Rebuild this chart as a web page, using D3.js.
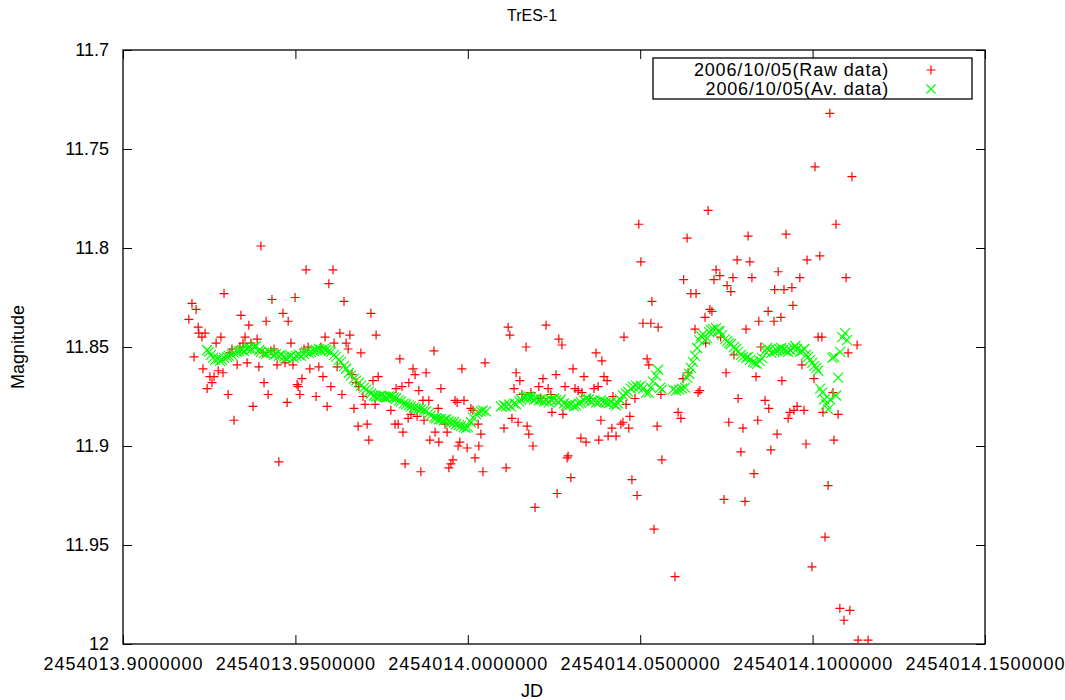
<!DOCTYPE html>
<html>
<head>
<meta charset="utf-8">
<script src="https://cdn.jsdelivr.net/npm/d3@7/dist/d3.min.js"></script>
<style>
  html, body { margin: 0; padding: 0; background: #fff; }
  svg { display: block; font-family: "Liberation Sans", Arial, sans-serif; }
</style>
</head>
<body>
<svg id="chart" width="1065" height="700"></svg>
<script>
// ---- data ----
const JD0 = 2454013;               // times below are days after JD 2454013
const rawT = [
0.9191,0.9200,0.9206,0.9212,0.9218,0.9220,0.9229,0.9232,0.9238,0.9244,
0.9252,0.9258,0.9264,0.9270,0.9276,0.9284,0.9290,0.9293,0.9305,0.9310,
0.9316,0.9322,0.9331,0.9339,0.9342,0.9348,0.9354,0.9360,0.9365,0.9371,
0.9377,0.9389,0.9394,0.9400,0.9406,0.9409,0.9415,0.9421,0.9429,0.9432,
0.9438,0.9447,0.9452,0.9464,0.9470,0.9476,0.9479,0.9487,0.9493,0.9499,
0.9505,0.9508,0.9513,0.9519,0.9525,0.9531,0.9537,0.9542,0.9560,0.9568,
0.9574,0.9580,0.9586,0.9592,0.9597,0.9603,0.9609,0.9612,0.9621,0.9629,
0.9635,0.9641,0.9647,0.9653,0.9658,0.9664,0.9670,0.9676,0.9682,0.9684,
0.9690,0.9696,0.9702,0.9708,0.9713,0.9719,0.9725,0.9731,0.9734,0.9740,
0.9777,0.9789,0.9792,0.9798,0.9803,0.9809,0.9812,0.9818,0.9827,0.9829,
0.9835,0.9841,0.9847,0.9853,0.9858,0.9864,0.9870,0.9873,0.9879,0.9887,
0.9890,0.9902,0.9905,0.9914,0.9916,0.9922,0.9934,0.9940,0.9945,0.9951,
0.9957,0.9963,0.9969,0.9972,0.9977,0.9983,0.9989,0.9998,1.0009,1.0015,
1.0021,1.0030,1.0032,1.0038,1.0044,1.0050,
1.0105,1.0111,1.0117,1.0122,1.0128,1.0134,1.0140,1.0146,1.0151,1.0157,
1.0169,1.0172,1.0177,1.0183,1.0189,1.0195,1.0206,1.0212,1.0218,1.0227,
1.0233,1.0241,1.0244,1.0256,1.0259,1.0264,1.0273,1.0276,1.0282,1.0288,
1.0291,1.0299,1.0305,1.0311,1.0320,1.0328,1.0331,1.0337,1.0343,1.0354,
1.0366,1.0372,1.0378,1.0380,1.0386,1.0389,1.0395,1.0404,1.0407,1.0418,
1.0421,1.0430,1.0444,1.0450,1.0453,1.0459,1.0467,1.0470,1.0476,1.0485,
1.0491,1.0496,1.0502,1.0508,1.0520,1.0525,1.0531,1.0534,1.0540,1.0549,
1.0552,1.0560,1.0563,1.0601,1.0610,1.0618,1.0624,1.0626,1.0636,1.0639,
1.0647,1.0659,1.0662,1.0668,1.0673,1.0688,1.0690,1.0697,1.0702,1.0708,
1.0714,1.0720,1.0731,1.0733,1.0743,1.0749,1.0752,1.0757,1.0763,1.0769,
1.0772,1.0781,1.0784,1.0792,1.0798,1.0804,1.0807,1.0813,1.0818,1.0824,
1.0830,1.0836,1.0841,1.0844,1.0850,1.0862,1.0871,1.0873,1.0879,1.0888,
1.0890,1.0897,1.0900,1.0908,1.0911,1.0917,1.0923,1.0929,1.0934,1.0940,
1.0943,1.0946,1.0955,1.0963,1.0969,1.0975,1.0981,1.0984,1.0998,1.1004,
1.1007,1.1016,1.1021,1.1027,1.1030,1.1036,1.1045,1.1050,1.1059,1.1062,
1.1068,1.1074,1.1079,1.1091,1.1097,1.1103,1.1108,1.1114,1.1129,1.1132,
1.1161
];
const rawMag = [
11.836,11.828,11.855,11.831,11.840,11.843,11.845,11.861,11.843,11.871,
11.865,11.868,11.865,11.848,11.862,11.845,11.863,11.823,11.874,11.853,
11.851,11.887,11.859,11.850,11.834,11.848,11.845,11.858,11.839,11.848,
11.880,11.846,11.860,11.799,11.853,11.868,11.837,11.874,11.852,11.826,
11.851,11.859,11.908,11.833,11.858,11.878,11.837,11.848,11.859,11.825,
11.869,11.870,11.874,11.866,11.851,11.811,11.850,11.861,11.875,11.860,
11.850,11.865,11.845,11.880,11.818,11.870,11.811,11.848,11.860,11.843,
11.874,11.827,11.848,11.851,11.844,11.864,11.881,11.868,11.890,11.870,
11.853,11.875,11.879,11.889,11.897,11.833,11.867,11.879,11.844,11.865,
11.882,11.889,11.871,11.889,11.856,11.870,11.893,11.909,11.886,11.868,
11.884,11.861,11.864,11.885,11.872,11.913,11.877,11.887,11.863,11.877,
11.897,11.852,11.893,11.881,11.898,11.871,11.889,11.893,11.911,11.909,
11.907,11.877,11.878,11.900,11.898,11.861,11.877,11.901,11.881,11.882,
11.906,11.889,11.900,11.894,11.913,11.858,
11.891,11.911,11.840,11.844,11.886,11.871,11.863,11.888,11.867,11.874,
11.850,11.890,11.894,11.873,11.900,11.931,11.870,11.876,11.866,11.839,
11.871,11.874,11.883,11.864,11.924,11.846,11.849,11.884,11.870,11.906,
11.905,11.916,11.861,11.871,11.872,11.896,11.873,11.865,11.898,11.876,
11.871,11.853,11.870,11.897,11.887,11.857,11.865,11.867,11.895,11.891,
11.875,11.895,11.889,11.888,11.845,11.879,11.891,11.885,11.917,11.876,
11.925,11.788,11.807,11.838,11.856,11.859,11.838,11.827,11.942,11.890,
11.840,11.874,11.907,11.966,11.883,11.886,11.866,11.816,11.795,11.863,
11.823,11.841,11.823,11.873,11.872,11.835,11.848,11.781,11.831,11.832,
11.816,11.811,11.814,11.845,11.927,11.863,11.819,11.888,11.822,11.815,
11.854,11.806,11.876,11.903,11.891,11.928,11.841,11.794,11.807,11.815,
11.914,11.865,11.887,11.837,11.850,11.877,11.832,11.881,11.902,11.837,
11.821,11.894,11.812,11.835,11.867,11.821,11.793,11.886,11.883,11.820,
11.829,11.882,11.880,11.815,11.859,11.882,11.899,11.806,11.961,11.866,
11.759,11.845,11.804,11.845,11.883,11.946,11.920,11.732,11.873,11.897,
11.788,11.884,11.982,11.988,11.815,11.853,11.983,11.764,11.849,11.998,
11.998
];
const avgT = [
0.9244,0.9249,0.9255,0.9261,0.9267,0.9276,0.9281,0.9287,0.9293,0.9302,
0.9307,0.9316,0.9322,0.9331,0.9336,0.9345,0.9351,0.9360,0.9365,0.9374,
0.9380,0.9386,0.9395,0.9400,0.9409,0.9415,0.9424,0.9429,0.9438,0.9444,
0.9452,0.9458,0.9467,0.9473,0.9481,0.9487,0.9496,0.9502,0.9510,0.9516,
0.9525,0.9531,0.9539,0.9545,0.9554,0.9560,0.9568,0.9574,0.9583,0.9589,
0.9597,0.9603,0.9612,0.9618,0.9626,0.9632,0.9641,0.9647,0.9655,0.9661,
0.9670,0.9676,0.9684,0.9690,0.9699,0.9705,0.9713,0.9719,0.9728,0.9734,
0.9742,0.9748,0.9757,0.9763,0.9771,0.9777,0.9786,0.9792,0.9800,0.9806,
0.9815,0.9821,0.9829,0.9835,0.9844,0.9850,0.9858,0.9864,0.9873,0.9879,
0.9887,0.9893,0.9902,0.9908,0.9916,0.9922,0.9931,0.9937,0.9945,0.9951,
0.9960,0.9966,0.9974,0.9980,0.9989,0.9995,1.0000,1.0009,1.0015,1.0024,
1.0029,1.0038,1.0044,1.0053,
1.0096,1.0105,1.0111,1.0119,1.0125,1.0134,1.0140,1.0149,1.0154,1.0163,
1.0169,1.0177,1.0183,1.0192,1.0198,1.0206,1.0212,1.0221,1.0227,1.0235,
1.0241,1.0250,1.0256,1.0264,1.0270,1.0279,1.0285,1.0293,1.0299,1.0308,
1.0314,1.0322,1.0328,1.0337,1.0343,1.0351,1.0357,1.0366,1.0372,1.0380,
1.0386,1.0395,1.0401,1.0409,1.0415,1.0424,1.0430,1.0436,1.0441,1.0450,
1.0459,1.0465,1.0473,1.0479,1.0488,1.0494,1.0502,1.0508,1.0517,1.0525,
1.0531,1.0537,1.0546,1.0552,1.0558,1.0563,1.0595,1.0604,1.0613,1.0621,
1.0630,1.0636,1.0642,1.0647,1.0653,1.0659,1.0665,1.0671,1.0676,1.0682,
1.0688,1.0694,1.0700,1.0705,1.0711,1.0720,1.0726,1.0731,1.0737,1.0746,
1.0752,1.0757,1.0763,1.0772,1.0778,1.0784,1.0792,1.0798,1.0807,1.0813,
1.0818,1.0827,1.0833,1.0839,1.0847,1.0853,1.0862,1.0868,1.0874,1.0880,
1.0889,1.0894,1.0903,1.0909,1.0915,1.0923,1.0929,1.0935,1.0944,1.0950,
1.0955,1.0964,1.0970,1.0976,1.0981,1.0987,1.0993,1.0999,1.1005,1.1011,
1.1016,1.1022,1.1028,1.1034,1.1039,1.1045,1.1051,1.1057,1.1062,1.1068,
1.1074,1.1080,1.1086,1.1094,1.1100
];
const avgMag = [
11.8515,11.8525,11.8540,11.8555,11.8565,11.8560,11.8570,11.8565,11.8555,11.8550,
11.8545,11.8540,11.8530,11.8525,11.8520,11.8515,11.8520,11.8510,11.8505,11.8510,
11.8500,11.8495,11.8515,11.8525,11.8530,11.8535,11.8525,11.8530,11.8540,11.8535,
11.8545,11.8540,11.8550,11.8555,11.8550,11.8545,11.8555,11.8545,11.8540,11.8545,
11.8535,11.8525,11.8530,11.8525,11.8520,11.8515,11.8510,11.8515,11.8510,11.8515,
11.8520,11.8525,11.8540,11.8550,11.8565,11.8575,11.8595,11.8610,11.8630,11.8645,
11.8660,11.8670,11.8680,11.8695,11.8705,11.8715,11.8725,11.8735,11.8745,11.8750,
11.8750,11.8745,11.8750,11.8755,11.8750,11.8750,11.8755,11.8760,11.8770,11.8775,
11.8785,11.8790,11.8795,11.8800,11.8805,11.8810,11.8810,11.8815,11.8820,11.8825,
11.8835,11.8845,11.8855,11.8860,11.8865,11.8865,11.8870,11.8865,11.8875,11.8880,
11.8880,11.8890,11.8895,11.8900,11.8905,11.8910,11.8905,11.8880,11.8855,11.8840,
11.8830,11.8825,11.8820,11.8825,
11.8800,11.8795,11.8800,11.8790,11.8800,11.8785,11.8790,11.8775,11.8765,11.8755,
11.8750,11.8750,11.8755,11.8765,11.8760,11.8770,11.8765,11.8775,11.8770,11.8780,
11.8765,11.8760,11.8770,11.8780,11.8765,11.8785,11.8795,11.8795,11.8790,11.8800,
11.8795,11.8785,11.8780,11.8770,11.8760,11.8765,11.8775,11.8770,11.8780,11.8780,
11.8770,11.8775,11.8780,11.8785,11.8780,11.8790,11.8795,11.8785,11.8765,11.8745,
11.8735,11.8725,11.8710,11.8700,11.8695,11.8705,11.8695,11.8710,11.8730,11.8730,
11.8705,11.8675,11.8645,11.8615,11.8705,11.8715,11.8715,11.8720,11.8715,11.8710,
11.8705,11.8655,11.8635,11.8605,11.8575,11.8545,11.8505,11.8465,11.8445,11.8435,
11.8465,11.8455,11.8425,11.8415,11.8410,11.8405,11.8420,11.8420,11.8440,11.8460,
11.8470,11.8480,11.8485,11.8500,11.8510,11.8525,11.8540,11.8550,11.8555,11.8550,
11.8565,11.8575,11.8580,11.8585,11.8570,11.8555,11.8520,11.8505,11.8515,11.8530,
11.8525,11.8515,11.8510,11.8505,11.8515,11.8520,11.8525,11.8515,11.8505,11.8495,
11.8510,11.8525,11.8520,11.8510,11.8540,11.8550,11.8565,11.8580,11.8595,11.8605,
11.8620,11.8710,11.8730,11.8765,11.8790,11.8815,11.8765,11.8555,11.8550,11.8745,
11.8655,11.8525,11.8450,11.8430,11.8465
];
const xTickValues = [2454013.90, 2454013.95, 2454014.00, 2454014.05, 2454014.10, 2454014.15];
const xTickLabels = ["2454013.9000000","2454013.9500000","2454014.0000000","2454014.0500000","2454014.1000000","2454014.1500000"];
const yTickValues = [11.7, 11.75, 11.8, 11.85, 11.9, 11.95, 12.0];
const yTickLabels = ["11.7","11.75","11.8","11.85","11.9","11.95","12"];
const seriesNames = ["2006/10/05(Raw data)", "2006/10/05(Av. data)"];
const seriesColors = ["#ff0000", "#00ff00"];
const titleText = "TrES-1";
const xLabelText = "JD";
const yLabelText = "Magnitude";

// ---- layout ----
const W = 1065, H = 700;
const M = { left: 123, right: 80, top: 50, bottom: 56 };
const svg = d3.select("#chart");
const x = d3.scaleLinear().domain([xTickValues[0], xTickValues[xTickValues.length - 1]]).range([M.left, W - M.right]);
const y = d3.scaleLinear().domain([11.7, 12.0]).range([M.top, H - M.bottom]);
const TICK = 9;
const fontSize = 18;

const xFmt = d => xTickLabels[xTickValues.findIndex(v => Math.abs(v - d) < 1e-6)];
const yFmt = d => yTickLabels[yTickValues.findIndex(v => Math.abs(v - d) < 1e-6)];

function styleAxis(g) {
  g.select(".domain").remove();
  g.selectAll(".tick line").attr("stroke", "#000").attr("stroke-width", 1);
  g.selectAll(".tick text").attr("fill", "#000").style("font-size", fontSize + "px")
    .style("font-family", '"Liberation Sans", Arial, sans-serif');
}

// bottom axis
svg.append("g").attr("transform", `translate(0,${H - M.bottom})`)
  .call(d3.axisBottom(x).tickValues(xTickValues).tickFormat(xFmt).tickSizeInner(-TICK).tickSizeOuter(0).tickPadding(13))
  .call(styleAxis)
  .call(g => g.selectAll(".tick text").style("letter-spacing", "1px"));
// top axis (mirror ticks)
svg.append("g").attr("transform", `translate(0,${M.top})`)
  .call(d3.axisTop(x).tickValues(xTickValues).tickFormat("").tickSizeInner(-TICK).tickSizeOuter(0))
  .call(styleAxis);
// left axis
svg.append("g").attr("transform", `translate(${M.left},0)`)
  .call(d3.axisLeft(y).tickValues(yTickValues).tickFormat(yFmt).tickSizeInner(-TICK).tickSizeOuter(0).tickPadding(14))
  .call(styleAxis);
// right axis (mirror ticks)
svg.append("g").attr("transform", `translate(${W - M.right},0)`)
  .call(d3.axisRight(y).tickValues(yTickValues).tickFormat("").tickSizeInner(-TICK).tickSizeOuter(0))
  .call(styleAxis);

// frame
svg.append("rect")
  .attr("x", M.left).attr("y", M.top)
  .attr("width", W - M.left - M.right).attr("height", H - M.top - M.bottom)
  .attr("fill", "none").attr("stroke", "#000").attr("stroke-width", 1.3);

// markers
const plusPath = "M-4.5,0H4.5M0,-4.5V4.5";
const crossPath = "M-5,-5L5,5M-5,5L5,-5";

const raw = rawT.map((t, i) => ({ jd: JD0 + t, mag: rawMag[i] }));
const avg = avgT.map((t, i) => ({ jd: JD0 + t, mag: avgMag[i] }));

svg.append("g").selectAll("path").data(raw).join("path")
  .attr("d", plusPath)
  .attr("transform", d => `translate(${x(d.jd)},${y(d.mag)})`)
  .attr("stroke", seriesColors[0]).attr("stroke-width", 1.2).attr("fill", "none");

svg.append("g").selectAll("path").data(avg).join("path")
  .attr("d", crossPath)
  .attr("transform", d => `translate(${x(d.jd)},${y(d.mag)})`)
  .attr("stroke", seriesColors[1]).attr("stroke-width", 1.15).attr("fill", "none");

// legend
const lg = svg.append("g");
lg.append("rect").attr("x", 653).attr("y", 58).attr("width", 319).attr("height", 41)
  .attr("fill", "#fff").attr("stroke", "#000").attr("stroke-width", 1.3);
const legendPaths = [plusPath, "M-4.5,-4.5L4.5,4.5M-4.5,4.5L4.5,-4.5"];
seriesNames.forEach((name, i) => {
  const cy = 70 + i * 19;
  lg.append("text").attr("x", 889).attr("y", cy).attr("dy", "0.35em")
    .attr("text-anchor", "end").style("font-size", fontSize + "px")
    .style("letter-spacing", "0.85px").attr("fill", "#000").text(name);
  lg.append("path").attr("d", legendPaths[i]).attr("transform", `translate(931,${cy})`)
    .attr("stroke", seriesColors[i]).attr("stroke-width", 1.2).attr("fill", "none");
});

// titles
svg.append("text").attr("x", 532).attr("y", 21).attr("text-anchor", "middle")
  .style("font-size", "16px").text(titleText);
svg.append("text").attr("x", 532).attr("y", 697).attr("text-anchor", "middle")
  .style("font-size", fontSize + "px").text(xLabelText);
svg.append("text").attr("transform", `translate(24,${(M.top + H - M.bottom) / 2}) rotate(-90)`)
  .attr("text-anchor", "middle").style("font-size", fontSize + "px").text(yLabelText);
</script>
</body>
</html>
